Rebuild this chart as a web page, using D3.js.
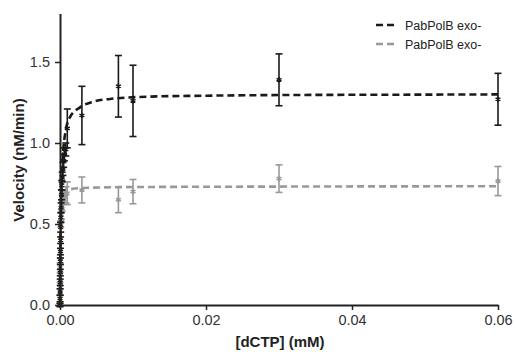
<!DOCTYPE html>
<html><head><meta charset="utf-8">
<script src="https://cdn.jsdelivr.net/npm/d3@7"></script>
<style>
html,body{margin:0;padding:0;background:#fff;}
svg{display:block;font-family:"Liberation Sans",Arial,sans-serif;}
</style></head>
<body>
<svg id="chart" width="516" height="352"></svg>
<script>
// ---- data ----
const seriesNames = ["PabPolB exo-", "PabPolB exo-"];
const xTicks = [0, 0.02, 0.04, 0.06];
const yTicks = [0, 0.5, 1.0, 1.5];

// black series: [dCTP] (mM), velocity, error
const blackX   = [0, 0.00001, 0.00002, 0.00003, 0.00004, 0.00005, 0.00006, 0.00008, 0.0001, 0.00012, 0.00015, 0.0002, 0.00025, 0.0003, 0.0004, 0.0005, 0.0006, 0.0008, 0.001, 0.003, 0.008, 0.01, 0.03, 0.06];
const blackY   = [0.00, 0.04, 0.08, 0.14, 0.20, 0.27, 0.33, 0.40, 0.48, 0.54, 0.60, 0.68, 0.74, 0.79, 0.84, 0.89, 0.93, 0.96, 1.09, 1.17, 1.35, 1.26, 1.39, 1.27];
const blackErr = [0.01, 0.02, 0.02, 0.02, 0.02, 0.02, 0.02, 0.02, 0.03, 0.03, 0.03, 0.03, 0.03, 0.03, 0.04, 0.04, 0.04, 0.04, 0.12, 0.18, 0.19, 0.22, 0.16, 0.16];

// gray series
const grayX   = [0, 0.00001, 0.00002, 0.00005, 0.0001, 0.0002, 0.0003, 0.0005, 0.0008, 0.001, 0.003, 0.008, 0.01, 0.03, 0.06];
const grayY   = [0.00, 0.12, 0.23, 0.27, 0.50, 0.56, 0.61, 0.66, 0.68, 0.69, 0.71, 0.65, 0.70, 0.78, 0.765];
const grayErr = [0.01, 0.02, 0.03, 0.02, 0.02, 0.03, 0.03, 0.04, 0.05, 0.07, 0.08, 0.08, 0.075, 0.085, 0.09];

// fitted curves
const blackFitX = [0, 0.00005, 0.0001, 0.0002, 0.0004, 0.0008, 0.00137, 0.00274, 0.00452, 0.00685, 0.00914, 0.012, 0.02, 0.03, 0.045, 0.06];
const blackFitY = [0, 0.30, 0.49, 0.71, 0.92, 1.08, 1.16, 1.22, 1.255, 1.272, 1.280, 1.286, 1.292, 1.296, 1.298, 1.300];
const grayFitX  = [0, 0.00002, 0.00005, 0.0001, 0.0002, 0.0005, 0.001, 0.003, 0.01, 0.03, 0.06];
const grayFitY  = [0, 0.20, 0.40, 0.53, 0.62, 0.69, 0.71, 0.722, 0.728, 0.731, 0.733];

const colors = ["#1a1a1a", "#999999"];

// ---- chart ----
const svg = d3.select("#chart");
const x = d3.scaleLinear().domain([0, 0.06]).range([60, 498]);
const y = d3.scaleLinear().domain([0, 1.8]).range([305, 13.4]);

const line = d3.line().x(d => x(d[0])).y(d => y(d[1])).curve(d3.curveMonotoneX);

function drawSeries(xs, ys, es, fx, fy, color) {
  const g = svg.append("g");
  g.append("path")
    .datum(fx.map((v, i) => [v, fy[i]]))
    .attr("d", line)
    .attr("fill", "none")
    .attr("stroke", color)
    .attr("stroke-width", 2.6)
    .attr("stroke-dasharray", "7,4");
  const pts = xs.map((v, i) => ({x: v, y: ys[i], e: es[i]}));
  const eb = g.selectAll(".eb").data(pts).enter().append("g")
    .attr("stroke", color).attr("stroke-width", 1.6).attr("fill", "none");
  eb.append("line")
    .attr("x1", d => x(d.x)).attr("x2", d => x(d.x))
    .attr("y1", d => y(d.y - d.e)).attr("y2", d => y(d.y + d.e));
  eb.append("line")
    .attr("x1", d => x(d.x) - 3.5).attr("x2", d => x(d.x) + 3.5)
    .attr("y1", d => y(d.y + d.e)).attr("y2", d => y(d.y + d.e));
  eb.append("line")
    .attr("x1", d => x(d.x) - 3.5).attr("x2", d => x(d.x) + 3.5)
    .attr("y1", d => y(d.y - d.e)).attr("y2", d => y(d.y - d.e));
  g.selectAll(".pt").data(pts).enter().append("path")
    .attr("transform", d => `translate(${x(d.x)},${y(d.y)})`)
    .attr("d", d3.symbol().type(d3.symbolAsterisk).size(22))
    .attr("fill", "none")
    .attr("stroke", color)
    .attr("stroke-width", 1.5);
}

drawSeries(grayX, grayY, grayErr, grayFitX, grayFitY, colors[1]);
drawSeries(blackX, blackY, blackErr, blackFitX, blackFitY, colors[0]);

// axes
const yAxis = svg.append("g").attr("transform", "translate(60,0)")
  .call(d3.axisLeft(y).tickValues(yTicks).tickFormat(d3.format(".1f")).tickSize(5).tickSizeOuter(0));
const xAxis = svg.append("g").attr("transform", "translate(0,305)")
  .call(d3.axisBottom(x).tickValues(xTicks).tickFormat(d3.format(".2f")).tickSize(5).tickSizeOuter(0));
[yAxis, xAxis].forEach(a => {
  a.select(".domain").attr("stroke", "#222").attr("stroke-width", 2);
  a.selectAll(".tick line").attr("stroke", "#222").attr("stroke-width", 1.5);
  a.selectAll(".tick text").attr("fill", "#333").style("font-size", "14.5px")
    .style("font-family", "'Liberation Sans', Arial, sans-serif");
});
yAxis.selectAll(".tick text").attr("x", -10);
xAxis.selectAll(".tick text").attr("y", 10);

// axis titles
svg.append("text")
  .attr("transform", "translate(24,160) rotate(-90)")
  .attr("text-anchor", "middle")
  .attr("fill", "#222")
  .style("font-size", "15px").style("font-weight", "bold")
  .text("Velocity (nM/min)");
svg.append("text")
  .attr("x", 280).attr("y", 347)
  .attr("text-anchor", "middle")
  .attr("fill", "#222")
  .style("font-size", "15px").style("font-weight", "bold")
  .text("[dCTP] (mM)");

// legend
const leg = svg.append("g");
seriesNames.forEach((name, i) => {
  const ly = 25 + i * 19;
  leg.append("line")
    .attr("x1", 376).attr("x2", 395).attr("y1", ly).attr("y2", ly)
    .attr("stroke", colors[i]).attr("stroke-width", 2.6)
    .attr("stroke-dasharray", "7,4");
  leg.append("text")
    .attr("x", 405).attr("y", ly + 4.5)
    .attr("fill", "#222")
    .style("font-size", "12.5px")
    .text(name);
});
</script>
</body></html>
